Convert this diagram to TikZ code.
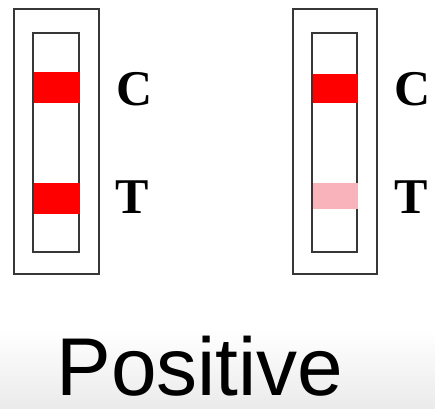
\documentclass[tikz,border=0pt]{standalone}
\usepackage{fontspec}
\setmainfont{Liberation Serif}
\setsansfont{Liberation Sans}
\usetikzlibrary{positioning}
\definecolor{rossobanda}{RGB}{255,0,0}
\definecolor{rosabanda}{RGB}{248,180,186}
\definecolor{bordo}{RGB}{55,55,55}

\begin{document}
\begin{tikzpicture}[x=1pt,y=-1pt,
    cornice/.style={draw=bordo, line width=1.8pt},
    lettera/.style={font=\fontsize{50}{50}\selectfont\bfseries, inner sep=0pt}]
    \useasboundingbox (0,0) rectangle (435,408);
        %sfondo
        \shade[top color=white, bottom color=black!8] (0,330) rectangle (435,408);
        %striscia sinistra
        \draw[cornice] (14,9) rectangle (99,274);
        \draw[cornice] (33,33) rectangle (79,252);
        \fill[rossobanda] (34,72) rectangle (80,103);
        \fill[rossobanda] (34,183) rectangle (80,214);
        %striscia destra
        \draw[cornice] (293,9) rectangle (377,274);
        \draw[cornice] (312,33) rectangle (357,252);
        \fill[rossobanda] (313,74) rectangle (358,103);
        \fill[rosabanda] (313,183) rectangle (358,209);
        %etichette
        \node[lettera] (c1) at (134.5,89.5) {C};
        \node[lettera] (t1) at (132.5,197.5) {T};
        \node[lettera] (c2) at (413,89.5) {C};
        \node[lettera] (t2) at (411.5,197.5) {T};
        %risultato
        \node[font=\sffamily\fontsize{82}{82}\selectfont, anchor=base, inner sep=0pt] (esito) at (200,395) {Positive};
\end{tikzpicture}
\end{document}
